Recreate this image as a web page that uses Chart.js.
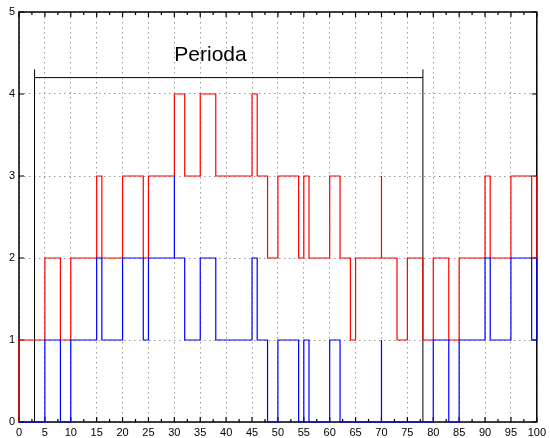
<!DOCTYPE html>
<html><head><meta charset="utf-8">
<style>html,body{margin:0;padding:0;background:#fff}#wrap{width:550px;height:438px;position:relative}</style>
<script src="https://cdn.jsdelivr.net/npm/chart.js@4"></script>
</head><body><div id="wrap"><canvas id="c" width="550" height="438"></canvas></div>
<script>
const xTicks = [0,5,10,15,20,25,30,35,40,45,50,55,60,65,70,75,80,85,90,95,100];
const xMinorTicks = [2.5,7.5,12.5,17.5,22.5,27.5,32.5,37.5,42.5,47.5,52.5,57.5,62.5,67.5,72.5,77.5,82.5,87.5,92.5,97.5];
const yTicks = [0,1,2,3,4,5];

// step series: value y holds from x until the next point
const redX = [0,0,5,8,10,15,16,20,24,25,30,32,35,38,45,46,48,50,54,55,56,60,62,64,65,70,70,73,75,78,80,83,85,90,91,95,99,100];
const redY = [0,1,2,1,2,3,2,3,2,3,4,3,4,3,4,3,2,3,2,3,2,3,2,1,2,3,2,1,2,1,2,1,2,3,2,3,2,3];
const blueX = [0,5,8,10,15,16,20,24,25,30,30,32,35,38,45,46,48,50,54,55,56,60,62,70,70,80,83,85,90,91,95,99,100];
const blueY = [0,1,0,1,2,1,2,1,2,3,2,1,2,1,2,1,0,1,0,1,0,1,0,1,0,1,0,1,2,1,2,1,2];

const periodStart = 3, periodEnd = 78, periodLevel = 4.2, periodMarkTop = 4.3;
const periodLabel = 'Perioda', periodLabelX = 30, periodLabelY = 4.5;

const FONT = '"Liberation Sans", Arial, Helvetica, sans-serif';
const pts = (xs, ys) => xs.map((x, i) => ({x, y: ys[i]}));

const frameTicks = {
  id: 'frameTicks',
  beforeDatasetsDraw(chart) {
    const {ctx, chartArea: a, scales: {x, y}} = chart;
    ctx.save();
    ctx.strokeStyle = '#000';
    ctx.lineWidth = 1.5;
    ctx.strokeRect(a.left, a.top, a.right - a.left, a.bottom - a.top);
    ctx.lineWidth = 1.2;
    ctx.beginPath();
    xTicks.forEach(v => {
      const px = x.getPixelForValue(v);
      ctx.moveTo(px, a.bottom); ctx.lineTo(px, a.bottom - 5);
      ctx.moveTo(px, a.top); ctx.lineTo(px, a.top + 5);
    });
    xMinorTicks.forEach(v => {
      const px = x.getPixelForValue(v);
      ctx.moveTo(px, a.bottom); ctx.lineTo(px, a.bottom - 3);
      ctx.moveTo(px, a.top); ctx.lineTo(px, a.top + 3);
    });
    yTicks.forEach(v => {
      const py = y.getPixelForValue(v);
      ctx.moveTo(a.left, py); ctx.lineTo(a.left + 5, py);
      ctx.moveTo(a.right, py); ctx.lineTo(a.right - 5, py);
    });
    ctx.stroke();
    ctx.restore();
  },
  afterDatasetsDraw(chart) {
    const {ctx, scales: {x, y}} = chart;
    ctx.save();
    ctx.fillStyle = '#000';
    ctx.font = '21px ' + FONT;
    ctx.textBaseline = 'alphabetic';
    ctx.textAlign = 'left';
    ctx.fillText(periodLabel, x.getPixelForValue(periodLabelX), y.getPixelForValue(periodLabelY) + 7.5);
    ctx.restore();
  }
};

const blackLine = data => ({data, borderColor: '#000', borderWidth: 1, pointRadius: 0, fill: false, clip: false, stepped: false, order: 3});

new Chart(document.getElementById('c'), {
  type: 'line',
  data: {
    datasets: [
      {data: pts(redX, redY), borderColor: 'rgb(255,0,0)', borderWidth: 1.2, pointRadius: 0, stepped: 'before', fill: false, clip: false, order: 2},
      {data: pts(blueX, blueY), borderColor: 'rgb(0,0,255)', borderWidth: 1.2, pointRadius: 0, stepped: 'before', fill: false, clip: false, order: 1},
      blackLine([{x: periodStart, y: 0}, {x: periodStart, y: periodMarkTop}]),
      blackLine([{x: periodEnd, y: 0}, {x: periodEnd, y: periodMarkTop}]),
      blackLine([{x: periodStart, y: periodLevel}, {x: periodEnd, y: periodLevel}])
    ]
  },
  options: {
    responsive: false,
    animation: false,
    events: [],
    layout: {padding: {top: 12, right: 11, left: 0, bottom: 0}},
    plugins: {legend: {display: false}, tooltip: {enabled: false}},
    scales: {
      x: {
        type: 'linear', min: 0, max: 100,
        afterBuildTicks: s => { s.ticks = xTicks.map(v => ({value: v})); },
        afterFit: s => { s.height = 16; },
        ticks: {font: {family: FONT, size: 11}, color: '#000', padding: 4, maxRotation: 0, autoSkip: false},
        grid: {drawTicks: false, color: '#9a9a9a', lineWidth: 1},
        border: {display: false, dash: [1.5, 3.5]}
      },
      y: {
        type: 'linear', min: 0, max: 5,
        afterBuildTicks: s => { s.ticks = yTicks.map(v => ({value: v})); },
        afterFit: s => { s.width = 19; },
        ticks: {font: {family: FONT, size: 11}, color: '#000', padding: 4},
        grid: {drawTicks: false, color: '#9a9a9a', lineWidth: 1},
        border: {display: false, dash: [1.5, 3.5]}
      }
    }
  },
  plugins: [frameTicks]
});
</script>
</body></html>
